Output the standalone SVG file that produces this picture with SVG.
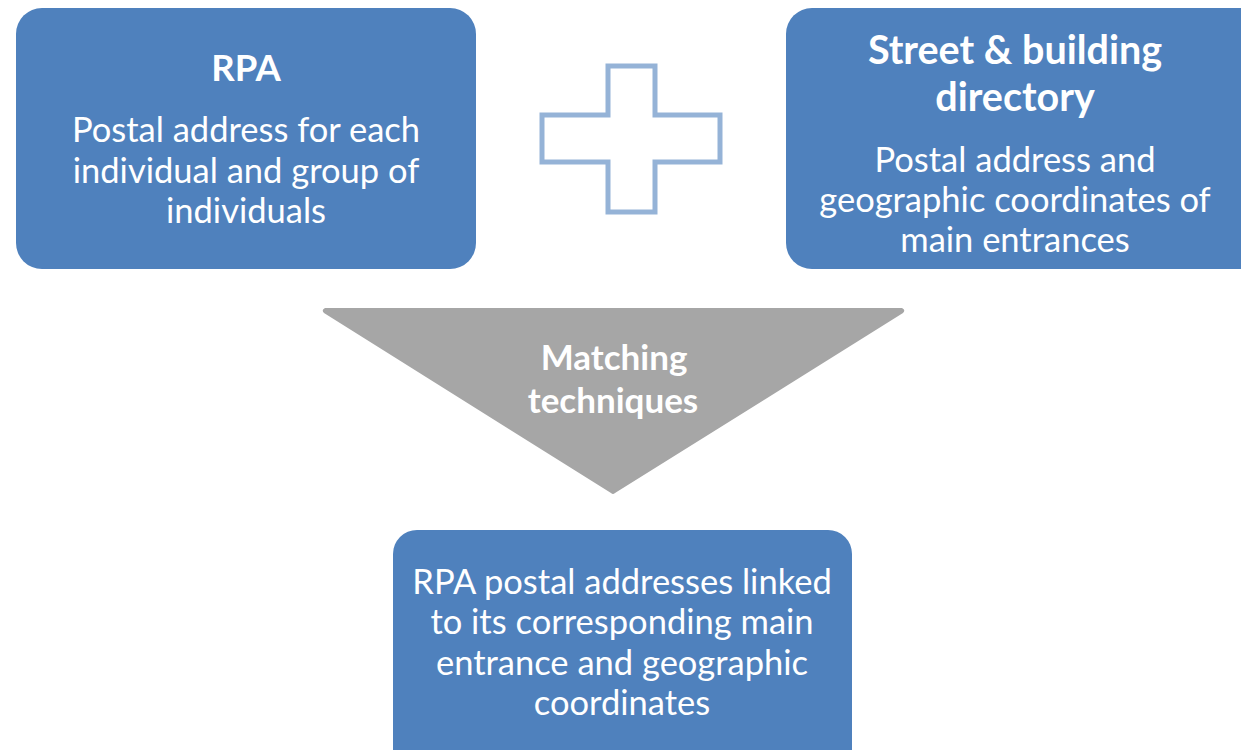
<svg xmlns="http://www.w3.org/2000/svg" width="1241" height="750" viewBox="0 0 1241 750">
<style>
.box{fill:#4F81BD;}
.t{font-family:Lato,"Liberation Sans",sans-serif;fill:#fff;text-anchor:middle;font-size:34.5px;}
.b{font-weight:bold;font-size:37.5px;}
.m{font-weight:bold;font-size:35px;}
</style>
<rect width="1241" height="750" fill="#fff"/>
<g id="rpa">
<rect class="box" x="16" y="8" width="460" height="261" rx="26"/>
<text class="t b" x="246" y="81" style="font-size:36.5px">RPA</text>
<text class="t" x="246" y="142">Postal address for each</text>
<text class="t" x="246" y="183">individual and group of</text>
<text class="t" x="246" y="223">individuals</text>
</g>
<g id="plus">
<path d="M608,66 H655 V115 H720 V162 H655 V212 H608 V162 H542 V115 H608 Z" fill="none" stroke="#95B3D7" stroke-width="5"/>
</g>
<g id="directory">
<rect class="box" x="786" y="8" width="480" height="261" rx="26"/>
<text class="t b" x="1015" y="64" style="font-size:39.5px">Street &amp; building</text>
<text class="t b" x="1015" y="111" style="font-size:39.5px">directory</text>
<text class="t" x="1015" y="172">Postal address and</text>
<text class="t" x="1015" y="212">geographic coordinates of</text>
<text class="t" x="1015" y="252">main entrances</text>
</g>
<g id="matching">
<path d="M325,308 H902 Q906,310 903,313 L615,493 Q613,495 611,493 L324,313 Q321,310 325,308 Z" fill="#A6A6A6"/>
<text class="t m" x="614" y="370">Matching</text>
<text class="t m" x="613" y="413">techniques</text>
</g>
<g id="result">
<rect class="box" x="393" y="530" width="459" height="250" rx="24"/>
<text class="t" x="622" y="594">RPA postal addresses linked</text>
<text class="t" x="622" y="634">to its corresponding main</text>
<text class="t" x="622" y="675">entrance and geographic</text>
<text class="t" x="622" y="715">coordinates</text>
</g>
<g id="connectors"></g>
</svg>
